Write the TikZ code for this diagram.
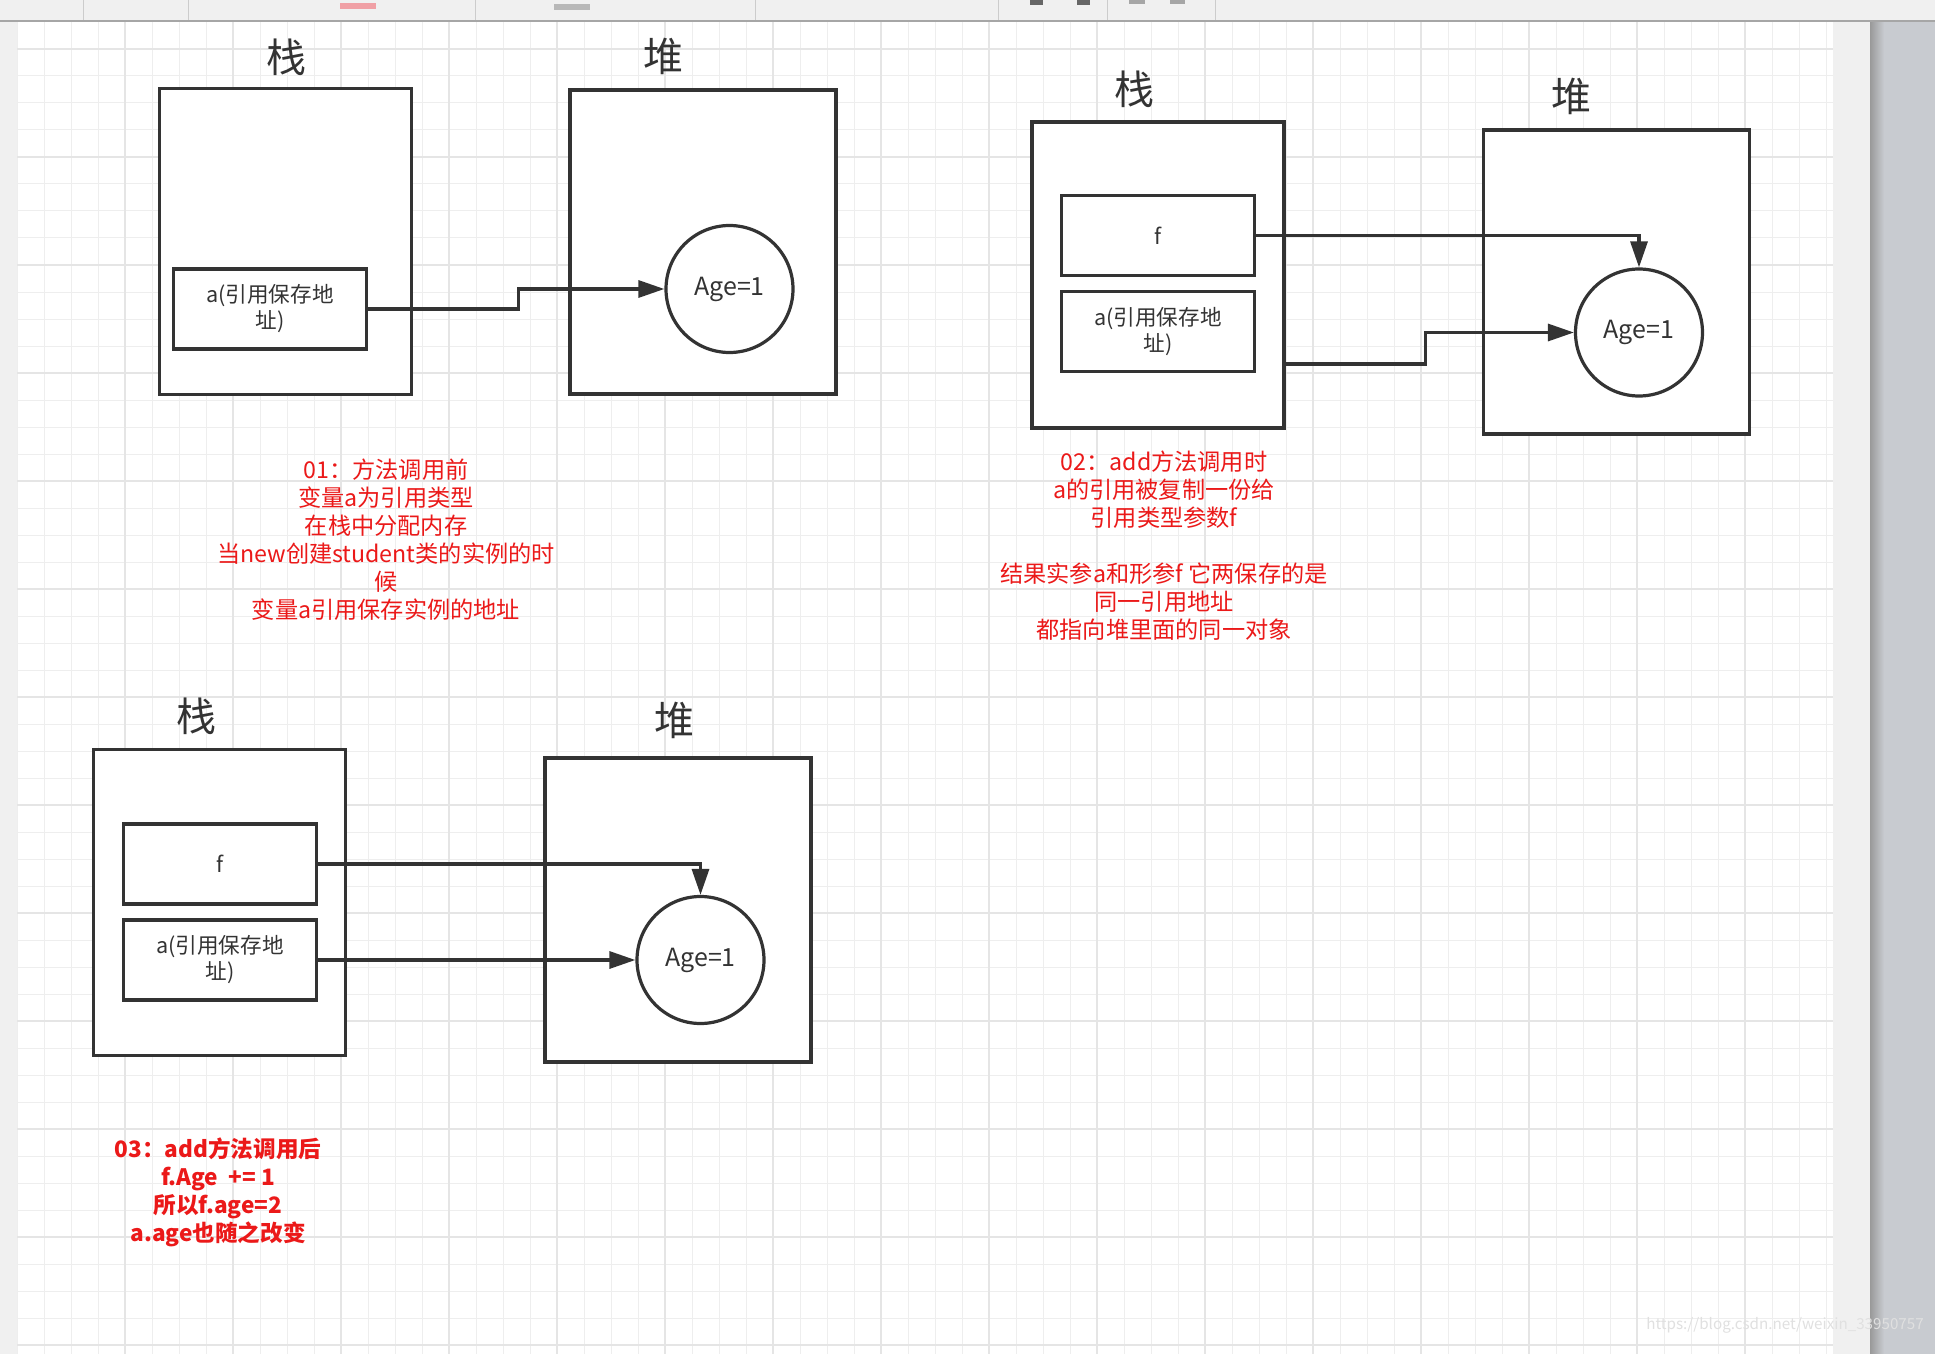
\documentclass[tikz,border=0pt]{standalone}
\usepackage{fontspec}
\setmainfont{Noto Sans CJK SC}
\usetikzlibrary{arrows.meta}
\definecolor{boxline}{RGB}{51,51,51}
\definecolor{notered}{RGB}{235,25,25}
\definecolor{chrome}{RGB}{240,240,240}
\definecolor{sidepanel}{RGB}{200,203,208}
\definecolor{gridminor}{RGB}{238,238,238}
\definecolor{gridmajor}{RGB}{229,229,229}
\definecolor{pinkicon}{RGB}{240,160,165}

\begin{document}
\begin{tikzpicture}[line join=miter, x=0.5pt, y=-0.5pt,
    >={Triangle[length=13pt,width=8.5pt]},
    frame/.style={draw=boxline, line width=1.6pt, fill=white, inner sep=0pt},
    stackbox/.style={frame, minimum width=126pt, minimum height=153pt},
    heapbox/.style={frame, minimum width=133pt, minimum height=152pt},
    cell/.style={frame, minimum width=96.5pt, minimum height=40pt, align=center,
        text=boxline, font=\fontsize{10.8}{13}\selectfont},
    obj/.style={frame, circle, minimum size=63.5pt, text=boxline,
        font=\fontsize{12.5}{14}\selectfont},
    title/.style={text=boxline, font=\fontsize{20}{24}\selectfont},
    note/.style={align=center, text=notered, font=\fontsize{11.6}{14}\selectfont},
    link/.style={->, draw=boxline, line width=1.6pt}]
    \useasboundingbox (0,0) rectangle (1935,1354);

    % editor page
    \fill[chrome] (0,0) rectangle (1935,1354);
    \fill[white] (17,22) rectangle (1833,1354);
    \foreach \i in {0,...,67}
        \draw[gridminor, line width=0.5pt] (17+27*\i,22) -- (17+27*\i,1354);
    \foreach \j in {0,...,49}
        \draw[gridminor, line width=0.5pt] (17,22+27*\j) -- (1833,22+27*\j);
    \foreach \i in {4,8,...,64}
        \draw[gridmajor, line width=0.6pt] (17+27*\i,22) -- (17+27*\i,1354);
    \foreach \j in {1,5,...,49}
        \draw[gridmajor, line width=0.6pt] (17,22+27*\j) -- (1833,22+27*\j);
    \shade[left color=black!40, right color=sidepanel] (1870,22) rectangle (1884,1354);
    \fill[sidepanel] (1884,22) rectangle (1935,1354);
    \fill[chrome] (0,0) rectangle (1935,21);
    \draw[black!35, line width=1pt] (0,21) -- (1935,21);
    \foreach \x in {83,188,475,755,998,1107,1215}
        \draw[black!20, line width=0.5pt] (\x,0) -- (\x,20);
    \fill[pinkicon] (340,3) rectangle (376,9);
    \fill[black!28] (554,4) rectangle (590,10);
    \fill[black!60] (1030,0) rectangle (1043,5);
    \fill[black!60] (1077,0) rectangle (1090,5);
    \fill[black!35] (1129,0) rectangle (1145,4);
    \fill[black!35] (1170,0) rectangle (1185,4);

    % 01
    \node[title] (s1) at (286,57) {栈};
    \node[title] (h1) at (663,56) {堆};
    \node[stackbox] (stack1) at (285.5,241.5) {};
    \node[cell] (a1) at (270,309) {a(引用保存地\\址)};
    \node[heapbox] (heap1) at (703,242) {};
    \node[obj] (obj1) at (729.5,289) {Age=1};
    \draw[link] (a1.east) -- ++(150,0) |- (obj1.west);
    \node[note] (n1) at (386,540) {01：方法调用前\\变量a为引用类型\\在栈中分配内存\\当new创建student类的实例的时\\候\\变量a引用保存实例的地址};

    % 02
    \node[title] (s2) at (1134,89) {栈};
    \node[title] (h2) at (1571,96) {堆};
    \node[stackbox] (stack2) at (1158,275) {};
    \node[cell] (f2) at (1158,235.5) {f};
    \node[cell] (a2) at (1158,331.5) {a(引用保存地\\址)};
    \node[heapbox] (heap2) at (1616.5,282) {};
    \node[obj] (obj2) at (1639,332.5) {Age=1};
    \coordinate (lvl) at (0,364);
    \draw[link] (f2.east) -| (obj2.north);
    \draw[link] (stack2.east |- lvl) -- ++(140,0) |- (obj2.west);
    \node[note] (n2) at (1164,546) {02：add方法调用时\\a的引用被复制一份给\\引用类型参数f\\[14pt]结果实参a和形参f 它两保存的是\\同一引用地址\\都指向堆里面的同一对象};

    % 03
    \node[title] (s3) at (196,716) {栈};
    \node[title] (h3) at (674,720) {堆};
    \node[stackbox] (stack3) at (219.6,902.5) {};
    \node[cell] (f3) at (220,864) {f};
    \node[cell] (a3) at (220,960) {a(引用保存地\\址)};
    \node[heapbox] (heap3) at (678,910) {};
    \node[obj] (obj3) at (700.5,960) {Age=1};
    \draw[link] (f3.east) -| (obj3.north);
    \draw[link] (a3.east) -- (obj3.west);
    \node[note, font=\bfseries\fontsize{11.3}{14}\selectfont] (n3) at (218,1192) {03：add方法调用后\\f.Age\ \ += 1\\所以f.age=2\\a.age也随之改变};

    \node[text=black!12, font=\fontsize{7.6}{10}\selectfont] (mark) at (1785,1325) {https://blog.csdn.net/weixin\_33950757};
\end{tikzpicture}
\end{document}
